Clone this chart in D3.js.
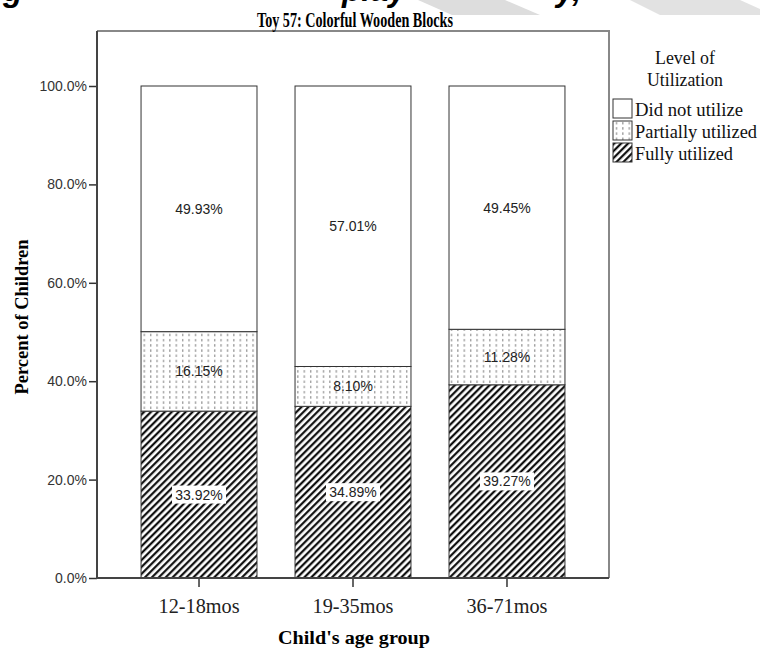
<!DOCTYPE html>
<html>
<head>
<meta charset="utf-8">
<script src="https://cdn.jsdelivr.net/npm/d3@7"></script>
<style>
  body { margin: 0; background: #fff; }
  svg { display: block; }
</style>
</head>
<body>
<script>
// chart values
const categories = ["12-18mos", "19-35mos", "36-71mos"];
const levels = ["Fully utilized", "Partially utilized", "Did not utilize"];
const fully = [33.92, 34.89, 39.27];
const partially = [16.15, 8.10, 11.28];
const notUtilized = [49.93, 57.01, 49.45];
const yTicks = [0, 20, 40, 60, 80, 100];

const width = 760, height = 650;
const frame = {left: 97, right: 609, top: 31, bottom: 578};

const svg = d3.select("body").append("svg")
    .attr("width", width)
    .attr("height", height);

// patterns
const defs = svg.append("defs");
const hatch = defs.append("pattern")
    .attr("id", "hatch")
    .attr("patternUnits", "userSpaceOnUse")
    .attr("width", 4.9).attr("height", 10)
    .attr("patternTransform", "rotate(45)");
hatch.append("rect").attr("width", 4.9).attr("height", 10).attr("fill", "#fff");
hatch.append("line")
    .attr("x1", 1.2).attr("x2", 1.2).attr("y1", 0).attr("y2", 10)
    .attr("stroke", "#000").attr("stroke-width", 2.1);

const dots = defs.append("pattern")
    .attr("id", "dots")
    .attr("patternUnits", "userSpaceOnUse")
    .attr("width", 6.4).attr("height", 5.2);
dots.append("rect").attr("width", 6.4).attr("height", 5.2).attr("fill", "#fff");
dots.append("rect")
    .attr("x", 3).attr("y", 1).attr("width", 1).attr("height", 2.4)
    .attr("fill", "#777");

const fills = {"Fully utilized": "url(#hatch)", "Partially utilized": "url(#dots)", "Did not utilize": "#fff"};

// cropped heading fragments above the chart (page is cut here in the original)
svg.append("g")
    .attr("font-family", "Arial, 'Liberation Sans', sans-serif")
    .attr("font-weight", "bold").attr("font-style", "italic")
    .attr("font-size", 32)
    .selectAll("text")
    .data([{t: "g", x: 3}, {t: "play", x: 342}, {t: "y,", x: 556}])
    .join("text")
    .attr("x", d => d.x).attr("y", 1)
    .text(d => d.t);
svg.append("polygon").attr("points", "418,0 505,0 540,15 452,15").attr("fill", "#ddd");
svg.append("polygon").attr("points", "630,0 740,0 760,9 760,15 660,15").attr("fill", "#e2e2e2");

// scales
const x = d3.scaleBand()
    .domain(categories)
    .range([frame.left, frame.right])
    .paddingInner(0.247)
    .paddingOuter(0.286);

const y = d3.scaleLinear()
    .domain([0, 100])
    .range([frame.bottom, 86]);

// frame
svg.append("path")
    .attr("d", `M${frame.left},${frame.top}H${frame.right}V${frame.bottom}`)
    .attr("fill", "none").attr("stroke", "#888").attr("stroke-width", 2);

// stacked data
const rows = categories.map((c, i) => ({
    cat: c,
    "Fully utilized": fully[i],
    "Partially utilized": partially[i],
    "Did not utilize": notUtilized[i]
}));
const series = d3.stack().keys(levels)(rows);

const g = svg.append("g");
series.forEach(s => {
    g.selectAll(null)
        .data(s)
        .join("rect")
        .attr("x", d => x(d.data.cat))
        .attr("width", x.bandwidth())
        .attr("y", d => y(d[1]))
        .attr("height", d => y(d[0]) - y(d[1]))
        .attr("fill", fills[s.key])
        .attr("stroke", "#333")
        .attr("stroke-width", 1);
});

// value labels
series.forEach(s => {
    const lg = g.selectAll(null)
        .data(s)
        .join("g")
        .attr("transform", d => `translate(${x(d.data.cat) + x.bandwidth() / 2},${y((d[0] + d[1]) / 2)})`);
    lg.append("rect")
        .attr("x", -27).attr("y", -9).attr("width", 54).attr("height", 18)
        .attr("fill", s.key === "Fully utilized" ? "#fff" : "none");
    lg.append("text")
        .attr("text-anchor", "middle")
        .attr("dy", "0.36em")
        .attr("font-family", "Arial, 'Liberation Sans', sans-serif")
        .attr("font-size", 14)
        .attr("fill", "#222")
        .text(d => (d[1] - d[0]).toFixed(2) + "%");
});

// y axis
const yAxis = svg.append("g")
    .attr("transform", `translate(${frame.left},0)`)
    .call(d3.axisLeft(y).tickValues(yTicks).tickSize(8).tickPadding(2)
        .tickFormat(d => d3.format(".1f")(d) + "%"));
yAxis.select(".domain").remove();
yAxis.selectAll(".tick line").attr("stroke", "#333").attr("stroke-width", 1.5);
yAxis.selectAll("text")
    .attr("font-family", "Arial, 'Liberation Sans', sans-serif")
    .attr("font-size", 14).attr("fill", "#333");
svg.append("line")
    .attr("x1", frame.left).attr("x2", frame.left)
    .attr("y1", frame.top).attr("y2", frame.bottom)
    .attr("stroke", "#444").attr("stroke-width", 2);

// x axis
const xAxis = svg.append("g")
    .attr("transform", `translate(0,${frame.bottom})`)
    .call(d3.axisBottom(x).tickSize(9).tickPadding(4));
xAxis.select(".domain").remove();
xAxis.selectAll(".tick line").attr("stroke", "#333").attr("stroke-width", 1.5);
xAxis.selectAll("text")
    .attr("font-family", "'Liberation Serif', 'Times New Roman', serif")
    .attr("font-size", 20).attr("fill", "#222")
    .attr("dy", null).attr("y", 35)
    .attr("textLength", 81).attr("lengthAdjust", "spacingAndGlyphs");
svg.append("line")
    .attr("x1", frame.left - 1).attr("x2", frame.right)
    .attr("y1", frame.bottom).attr("y2", frame.bottom)
    .attr("stroke", "#444").attr("stroke-width", 2);

// titles
const serif = "'Liberation Serif', 'Times New Roman', serif";
svg.append("text")
    .attr("x", 355).attr("y", 27)
    .attr("text-anchor", "middle")
    .attr("font-family", serif).attr("font-weight", "bold").attr("font-size", 20)
    .attr("textLength", 196).attr("lengthAdjust", "spacingAndGlyphs")
    .text("Toy 57: Colorful Wooden Blocks");

svg.append("text")
    .attr("x", 354).attr("y", 644)
    .attr("text-anchor", "middle")
    .attr("font-family", serif).attr("font-weight", "bold").attr("font-size", 19)
    .attr("textLength", 152).attr("lengthAdjust", "spacingAndGlyphs")
    .text("Child's age group");

svg.append("text")
    .attr("transform", "translate(28,317) rotate(-90)")
    .attr("text-anchor", "middle")
    .attr("font-family", serif).attr("font-weight", "bold").attr("font-size", 19)
    .attr("textLength", 155).attr("lengthAdjust", "spacingAndGlyphs")
    .text("Percent of Children");

// legend
const legend = svg.append("g")
    .attr("font-family", serif).attr("font-size", 18).attr("fill", "#111");
legend.append("text").attr("x", 685).attr("y", 64).attr("text-anchor", "middle")
    .attr("textLength", 60).attr("lengthAdjust", "spacingAndGlyphs").text("Level of");
legend.append("text").attr("x", 685).attr("y", 86).attr("text-anchor", "middle")
    .attr("textLength", 76).attr("lengthAdjust", "spacingAndGlyphs").text("Utilization");

const legendItems = levels.slice().reverse();
const legendWidths = {"Did not utilize": 108, "Partially utilized": 122, "Fully utilized": 98};
const li = legend.selectAll("g.item")
    .data(legendItems)
    .join("g")
    .attr("class", "item")
    .attr("transform", (d, i) => `translate(613,${99 + i * 22})`);
li.append("rect")
    .attr("width", 19).attr("height", 19)
    .attr("fill", d => fills[d])
    .attr("stroke", "#333").attr("stroke-width", 1);
li.append("text")
    .attr("x", 22).attr("y", 17)
    .attr("textLength", d => legendWidths[d]).attr("lengthAdjust", "spacingAndGlyphs")
    .text(d => d);
</script>
</body>
</html>
